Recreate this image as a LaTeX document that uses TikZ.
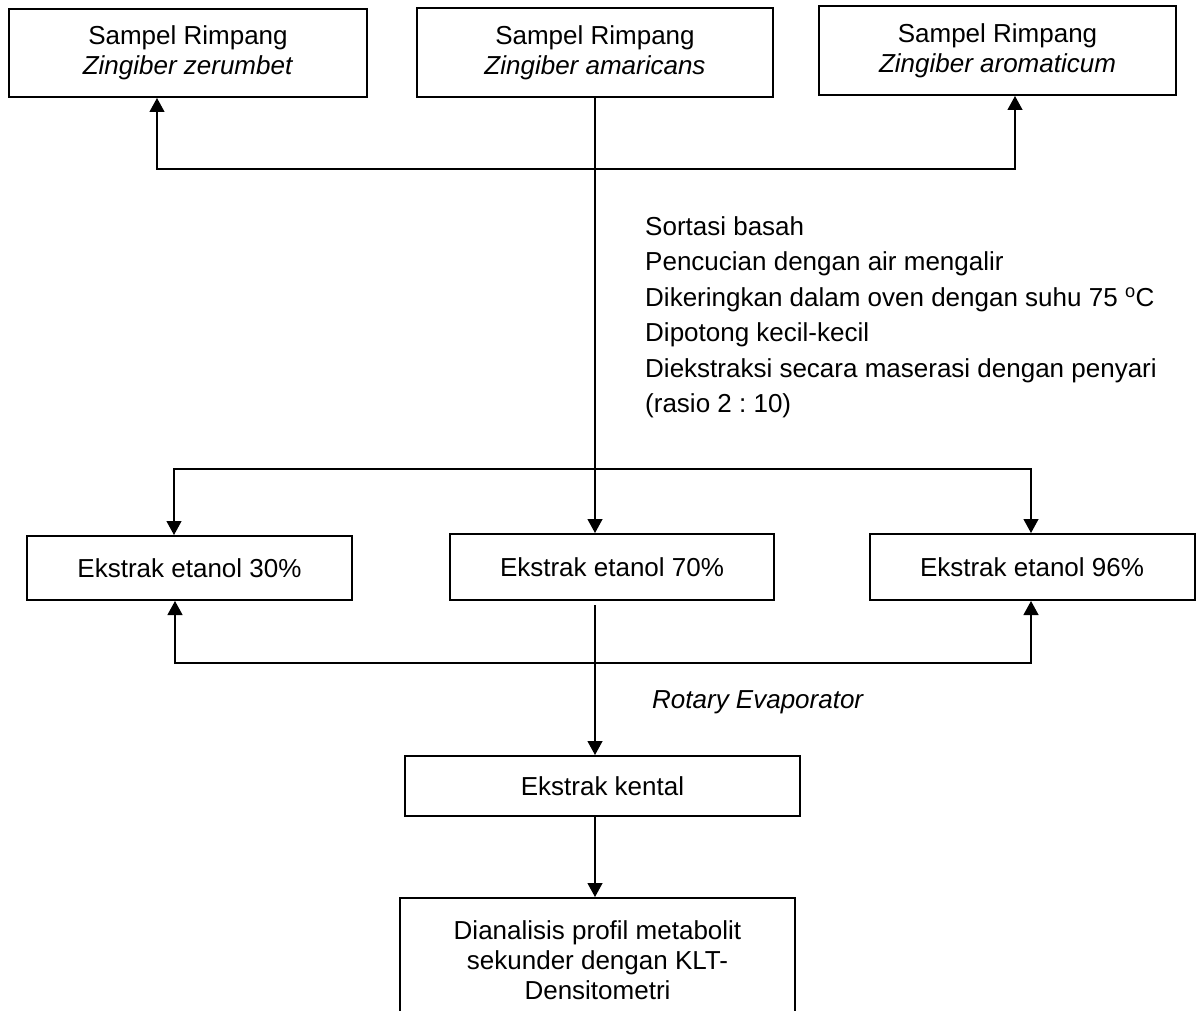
\documentclass[tikz,border=0pt]{standalone}
\usepackage{fontspec}
\setmainfont{Liberation Sans}
\usetikzlibrary{arrows.meta}

\begin{document}
\frenchspacing
\begin{tikzpicture}[x=1pt,y=-1pt,
     kotak/.style={draw,line width=2pt,align=center,inner sep=0pt,font=\fontsize{26}{30}\selectfont},
     garis/.style={line width=1.2pt},
     panah/.style={garis,-{Triangle[width=15pt,length=14pt]}},
     duapanah/.style={garis,{Triangle[width=15pt,length=14pt]}-{Triangle[width=15pt,length=14pt]}}]
     \useasboundingbox (0,0) rectangle (1197,1011);
     \node[kotak,minimum width=358pt,minimum height=88pt] (zzer) at (188,53) {Sampel Rimpang\\\textit{Zingiber zerumbet}};
     \node[kotak,minimum width=356pt,minimum height=89pt] (zama) at (595,52.5) {Sampel Rimpang\\\textit{Zingiber amaricans}};
     \node[kotak,minimum width=357pt,minimum height=89pt] (zaro) at (997.5,50.5) {Sampel Rimpang\\\textit{Zingiber aromaticum}};
     \node[kotak,minimum width=325pt,minimum height=64pt] (e30) at (189.5,568) {Ekstrak etanol 30\%};
     \node[kotak,minimum width=324pt,minimum height=66pt] (e70) at (612,567) {Ekstrak etanol 70\%};
     \node[kotak,minimum width=325pt,minimum height=66pt] (e96) at (1032,567) {Ekstrak etanol 96\%};
     \node[kotak,minimum width=395pt,minimum height=60pt] (kental) at (602.5,786) {Ekstrak kental};
     \node[kotak,minimum width=395pt,minimum height=124pt] (analisis) at (597.5,960) {Dianalisis profil metabolit\\sekunder dengan KLT-\\Densitometri};
     \node[anchor=north west,align=left,inner sep=0pt,font=\fontsize{26}{35.5}\selectfont] (proses) at (645,216) {Sortasi basah\\Pencucian dengan air mengalir\\Dikeringkan dalam oven dengan suhu 75 \textsuperscript{o}C\\Dipotong kecil-kecil\\Diekstraksi secara maserasi dengan penyari\\(rasio 2 : 10)};
     \node[anchor=base west,inner sep=0pt,font=\fontsize{26}{30}\selectfont\itshape] (rotary) at (652,708) {Rotary Evaporator};
     \coordinate (kiri1) at (157,169);
     \coordinate (kanan1) at (1015,169);
     \coordinate (kiri2) at (174,469);
     \coordinate (kanan2) at (1031,469);
     \coordinate (kiri3) at (175,663);
     \coordinate (kanan3) at (1031,663);
     \coordinate (tengah) at (595,605);
     \draw[duapanah] (kiri1 |- zzer.south) -- (kiri1) -- (kanan1) -- (kanan1 |- zaro.south);
     \draw[panah] (zama.south) -- (zama.south |- e70.north);
     \draw[duapanah] (kiri2 |- e30.north) -- (kiri2) -- (kanan2) -- (kanan2 |- e96.north);
     \draw[duapanah] (kiri3 |- e30.south) -- (kiri3) -- (kanan3) -- (kanan3 |- e96.south);
     \draw[panah] (tengah) -- (tengah |- kental.north);
     \draw[panah] (tengah |- kental.south) -- (tengah |- analisis.north);
    \end{tikzpicture}
\end{document}
